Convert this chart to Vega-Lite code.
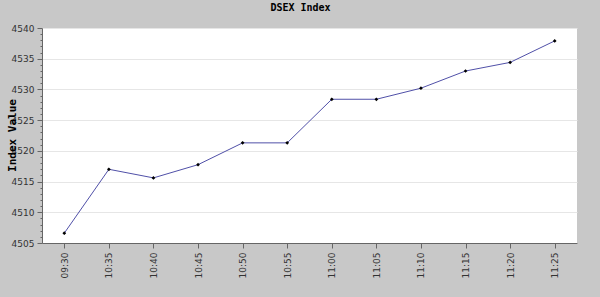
{
  "$schema": "https://vega.github.io/schema/vega-lite/v6.json",
  "width": 535,
  "height": 215,
  "autosize": "none",
  "padding": {"left": 42, "top": 28, "right": 23, "bottom": 54},
  "background": "#c8c8c8",
  "title": {"text": "DSEX Index", "font": "DejaVu Sans Mono", "fontSize": 10, "fontWeight": "bold", "color": "#000000", "offset": 11, "dx": -9},
  "config": {
    "view": {"fill": "#ffffff", "stroke": null},
    "axis": {"labelFont": "DejaVu Sans", "labelFontSize": 9, "labelColor": "#333333", "domainColor": "#666666", "tickColor": "#666666"}
  },
  "data": {"values": [
    {"time": "09:30", "value": 4506.6},
    {"time": "10:35", "value": 4517.0},
    {"time": "10:40", "value": 4515.6},
    {"time": "10:45", "value": 4517.75},
    {"time": "10:50", "value": 4521.3},
    {"time": "10:55", "value": 4521.3},
    {"time": "11:00", "value": 4528.4},
    {"time": "11:05", "value": 4528.4},
    {"time": "11:10", "value": 4530.2},
    {"time": "11:15", "value": 4533.0},
    {"time": "11:20", "value": 4534.4},
    {"time": "11:25", "value": 4537.9}
  ]},
  "encoding": {
    "x": {"field": "time", "type": "ordinal", "sort": null,
      "scale": {"type": "point", "padding": 0.5},
      "axis": {"title": null, "labelAngle": -90, "labelAlign": "right", "labelBaseline": "middle", "labelPadding": 4, "tickSize": 5, "grid": false}},
    "y": {"field": "value", "type": "quantitative",
      "scale": {"domain": [4505, 4540], "nice": false, "zero": false},
      "axis": {"title": "Index Value", "titleFont": "DejaVu Sans Mono", "titleFontSize": 11, "titleFontWeight": "bold", "titleColor": "#000000",
        "titleAngle": -90, "titleX": -27, "titleY": 107, "titleBaseline": "alphabetic", "titleAlign": "center",
        "values": [4505,4506,4507,4508,4509,4510,4511,4512,4513,4514,4515,4516,4517,4518,4519,4520,4521,4522,4523,4524,4525,4526,4527,4528,4529,4530,4531,4532,4533,4534,4535,4536,4537,4538,4539,4540],
        "labelExpr": "datum.value % 5 === 0 ? datum.label : ''",
        "format": "d",
        "tickSize": {"condition": {"test": "datum.value % 5 === 0", "value": 5}, "value": 2},
        "grid": true,
        "gridColor": "#e6e6e6",
        "gridOpacity": {"condition": {"test": "datum.value % 5 === 0", "value": 1}, "value": 0},
        "labelPadding": 3}}
  },
  "layer": [
    {"mark": {"type": "line", "color": "#5050a8", "strokeWidth": 1}},
    {"mark": {"type": "point", "shape": "diamond", "filled": true, "color": "#000000", "size": 14, "opacity": 1}}
  ]
}
